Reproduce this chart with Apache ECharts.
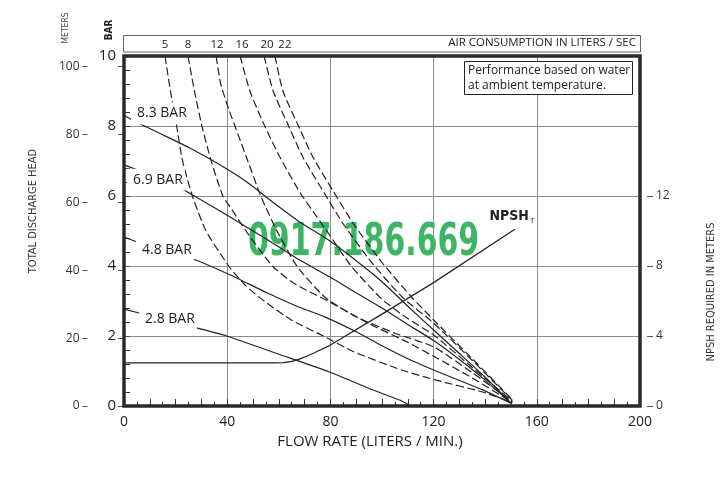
<!DOCTYPE html>
<html>
<head>
<meta charset="utf-8">
<script src="https://cdn.jsdelivr.net/npm/echarts@6/dist/echarts.min.js"></script>
<style>
html,body{margin:0;padding:0;background:#fff;}
#chart{width:724px;height:481px;}
</style>
</head>
<body>
<div id="chart"></div>
<script>
// ---------- DATA ----------
const flowTicks = [0, 40, 80, 120, 160, 200];          // LPM
const barTicks = [0, 2, 4, 6, 8, 10];                  // BAR
const meterTicks = [0, 20, 40, 60, 80, 100];           // m
const npshTicks = [0, 4, 8, 12];                       // m

const pressureLabels = ['8.3 BAR', '6.9 BAR', '4.8 BAR', '2.8 BAR'];
const p83 = [[0,8.3],[5.4,8.09],[15,7.75],[25.5,7.37],[36,6.94],[47.6,6.4],[57.6,5.83],[68.1,5.26],[79.7,4.72],[90,4.15],[100,3.55],[110,2.85],[120,2.17],[130,1.5],[140,0.82],[150,0.08]];
const p69 = [[0,6.89],[12,6.55],[22.4,6.2],[33.3,5.74],[47.6,5.11],[57.6,4.66],[68.1,4.17],[79.7,3.69],[90.1,3.23],[100,2.8],[110,2.33],[120,1.87],[130,1.33],[140,0.74],[150,0.08]];
const p48 = [[0,4.83],[12,4.5],[26.7,4.2],[41,3.75],[55,3.25],[67,2.85],[78,2.54],[90,2.12],[100,1.72],[110,1.35],[120,1.03],[130,0.73],[139,0.46],[150,0.08]];
const p28 = [[0,2.77],[14,2.5],[28.2,2.23],[39.8,2.0],[60,1.48],[79.7,0.97],[95,0.5],[106.8,0.17],[110.5,0.03]];

const airLabels = ['5', '8', '12', '16', '20', '22'];   // liters / sec
const air5  = [[15.9,10],[18,9],[20.4,8],[22.7,7],[26.5,6],[31.8,5],[40.6,4],[47,3.45],[54.3,3],[65,2.45],[77.3,2],[89,1.55],[108,1.02],[121,0.74],[139,0.4],[150.5,0.1]];
const air8  = [[24.8,10],[27.3,9],[30.2,8],[33.8,7],[38.3,6],[41.1,5.69],[47.3,5],[57.5,4],[66,3.5],[79,3],[95,2.35],[110,1.82],[120,1.42],[135,0.8],[150.5,0.1]];
const air12 = [[35.7,10],[37.5,9.2],[40.5,8.5],[44.5,7.7],[48,7],[53,6],[59.3,5],[67,4],[78,3.1],[90,2.55],[105,2.08],[120,1.69],[135,0.95],[150.5,0.12]];
const air16 = [[45,10],[48.8,9],[53.9,8.1],[60.5,7.1],[68.2,6.1],[74.8,5.4],[80,4.85],[88,4],[100,3.05],[110,2.5],[120,2.03],[135,1.1],[150.5,0.14]];
const air20 = [[54.3,10],[57.8,9],[63.2,8.1],[69.4,7.1],[77.5,6.1],[85,5.2],[96,4.1],[108,3.1],[120,2.37],[135,1.3],[150.5,0.16]];
const air22 = [[58.5,10],[61.6,9],[67,8.1],[73.3,7.1],[81,6.15],[89,5.2],[100,4.1],[111,3.15],[120,2.46],[135,1.35],[150.5,0.18]];

const npshLabel = 'NPSH';
const npshr = [[0,2.46],[58,2.46],[62,2.48],[65,2.55],[68,2.68],[71,2.86],[74,3.06],[80,3.48],[100,5.25],[120,7.05],[151.5,10.1]];

// ---------- STYLE ----------
const INK = '#222';
const NARROW = "'DejaVu Sans Condensed',sans-serif";
const HUMAN = "'Open Sans','Noto Sans',sans-serif";

const pressureSets = [p83, p69, p48, p28];
const pressureLabelPos = [
  {distance: 7, offset: [0, -2]},
  {distance: 3, offset: [0, 15]},
  {distance: 12, offset: [0, 13]},
  {distance: 15, offset: [0, 10]}
];
const airSets = [air5, air8, air12, air16, air20, air22];
const airLabelOffset = [[0,0],[0,0],[1,0],[2,0],[3,0],[10,0]];

const series = [];
pressureSets.forEach((d, i) => {
  series.push({
    type: 'line', xAxisIndex: 0, yAxisIndex: 0,
    smooth: 0.2,
    symbol: 'circle', symbolSize: 0, showSymbol: true, clip: false,
    lineStyle: {color: INK, width: 1.2},
    itemStyle: {color: INK},
    data: d.map((p, j) => j === 0 ? {
      value: p,
      label: {
        show: true, position: 'right', formatter: pressureLabels[i],
        distance: pressureLabelPos[i].distance, offset: pressureLabelPos[i].offset,
        fontFamily: HUMAN, fontSize: 14, color: INK,
        backgroundColor: '#fff', padding: [4, 2, 4, 6]
      }
    } : p),
    z: 3
  });
});
airSets.forEach((d, i) => {
  series.push({
    type: 'line', xAxisIndex: 0, yAxisIndex: 0,
    smooth: 0.2,
    symbol: 'circle', symbolSize: 0, showSymbol: true, clip: false,
    lineStyle: {color: INK, width: 1.2, type: [8, 3.5]},
    itemStyle: {color: INK},
    data: d.map((p, j) => j === 0 ? {
      value: p,
      label: {
        show: true, position: 'top', distance: 5, offset: airLabelOffset[i], formatter: airLabels[i],
        fontFamily: HUMAN, fontSize: 11.5, color: INK
      }
    } : p),
    z: 3
  });
});
series.push({
  type: 'line', xAxisIndex: 2, yAxisIndex: 3,
  smooth: false,
  symbol: 'circle', symbolSize: 0, showSymbol: true, clip: false,
  lineStyle: {color: INK, width: 1.2},
  itemStyle: {color: INK},
  data: npshr.map((p, j) => j === npshr.length - 1 ? {
    value: p,
    label: {
      show: true, position: 'top', distance: 4, offset: [-3, 0],
      formatter: '{a|' + npshLabel + '}{b|r}',
      rich: {
        a: {fontFamily: NARROW, fontWeight: 'bold', fontSize: 14, color: INK},
        b: {fontFamily: NARROW, fontSize: 9, color: INK, padding: [8, 0, 0, 2]}
      }
    }
  } : p),
  z: 3
});

const gridL = 124, gridR = 84, gridB = 75;
const option = {
  animation: false,
  backgroundColor: '#fff',
  grid: [
    {left: gridL, right: gridR, top: 56, bottom: gridB, show: true, borderColor: '#2a2a2a', borderWidth: 3.5, backgroundColor: 'transparent', z: 4},
    {left: gridL, right: gridR, top: 66.5, bottom: gridB, show: false},
    {left: gridL, right: gridR, top: 196, bottom: gridB, show: false}
  ],
  xAxis: [
    {gridIndex: 0, type: 'value', min: flowTicks[0], max: flowTicks[flowTicks.length - 1], interval: flowTicks[1] - flowTicks[0],
     axisLine: {show: false}, axisTick: {show: false},
     axisLabel: {fontFamily: HUMAN, fontSize: 14, color: INK, margin: 9},
     splitLine: {show: true, lineStyle: {color: '#8c8c8c', width: 1}}},
    {gridIndex: 0, type: 'value', min: 0, max: 200, interval: 10, position: 'bottom',
     axisLine: {show: false}, axisLabel: {show: false}, splitLine: {show: false},
     axisTick: {show: true, inside: true, length: 7, lineStyle: {color: '#333', width: 1}},
     minorTick: {show: true, splitNumber: 2, length: 4, lineStyle: {color: '#333', width: 1}}},
    {gridIndex: 2, type: 'value', min: 0, max: 200, show: false},
    {gridIndex: 1, type: 'value', min: 0, max: 200, show: false}
  ],
  yAxis: [
    {gridIndex: 0, type: 'value', min: barTicks[0], max: barTicks[barTicks.length - 1], interval: barTicks[1] - barTicks[0],
     axisLine: {show: false},
     axisTick: {show: true, inside: true, length: 6, lineStyle: {color: '#333'}},
     minorTick: {show: true, splitNumber: 5, length: 6, lineStyle: {color: '#333'}},
     axisLabel: {fontFamily: HUMAN, fontSize: 15, color: INK, margin: 8},
     splitLine: {show: true, lineStyle: {color: '#8c8c8c', width: 1}}},
    {gridIndex: 1, type: 'value', min: meterTicks[0], max: meterTicks[meterTicks.length - 1], interval: meterTicks[1] - meterTicks[0],
     position: 'left', offset: 41.5,
     axisLine: {show: true, lineStyle: {color: '#555', width: 1}},
     axisTick: {show: true, length: 6, lineStyle: {color: '#555'}},
     axisLabel: {fontFamily: HUMAN, fontSize: 12, color: '#333', margin: 3},
     splitLine: {show: false}},
    {gridIndex: 1, type: 'value', min: 0, max: 100, interval: 20, position: 'left', offset: 41.5,
     axisLine: {show: false}, axisLabel: {show: false}, splitLine: {show: false},
     axisTick: {show: true, inside: true, length: 5, lineStyle: {color: '#555'}}},
    {gridIndex: 2, type: 'value', min: npshTicks[0], max: npshTicks[npshTicks.length - 1], interval: npshTicks[1] - npshTicks[0],
     position: 'right', offset: 13,
     axisLine: {show: true, lineStyle: {color: '#555', width: 1}},
     axisTick: {show: true, length: 6, lineStyle: {color: '#555'}},
     axisLabel: {fontFamily: HUMAN, fontSize: 12, color: '#333', margin: 3},
     splitLine: {show: false}},
    {gridIndex: 2, type: 'value', min: 0, max: 12, interval: 4, position: 'right', offset: 13,
     axisLine: {show: false}, axisLabel: {show: false}, splitLine: {show: false},
     axisTick: {show: true, inside: true, length: 6, lineStyle: {color: '#555'}}}
  ],
  graphic: [
    // watermark
    {type: 'text', x: 248, y: 221, scaleX: 0.74, z: 1,
     style: {text: '0917.186.669', fill: '#3db565', font: 'bold 45px ' + NARROW}},
    // air consumption header box
    {type: 'rect', shape: {x: 123.5, y: 35.5, width: 517, height: 16.5}, z: 0,
     style: {fill: 'none', stroke: '#666', lineWidth: 1}},
    {type: 'text', right: 88, top: 37, z: 5,
     style: {text: 'AIR CONSUMPTION IN LITERS / SEC', fill: INK, font: '11.5px ' + HUMAN}},
    // note box
    {type: 'rect', shape: {x: 464.5, y: 61.5, width: 168, height: 33}, z: 5,
     style: {fill: '#fff', stroke: INK, lineWidth: 1}},
    {type: 'text', left: 468, top: 63, z: 6,
     style: {text: 'Performance based on water\nat ambient temperature.', fill: INK, font: '12px ' + HUMAN, lineHeight: 15}},
    // axis titles
    {type: 'text', x: 33, y: 211, rotation: Math.PI / 2, z: 5,
     style: {text: 'TOTAL DISCHARGE HEAD', fill: '#333', font: '11px ' + NARROW, align: 'center', verticalAlign: 'middle'}},
    {type: 'text', x: 66, y: 28, rotation: Math.PI / 2, z: 5,
     style: {text: 'METERS', fill: '#444', font: '8.5px ' + NARROW, align: 'center', verticalAlign: 'middle'}},
    {type: 'text', x: 109, y: 30, rotation: Math.PI / 2, z: 5,
     style: {text: 'BAR', fill: INK, font: 'bold 10px ' + NARROW, align: 'center', verticalAlign: 'middle'}},
    {type: 'text', x: 711, y: 292, rotation: Math.PI / 2, z: 5,
     style: {text: 'NPSH REQUIRED IN METERS', fill: '#333', font: '11px ' + NARROW, align: 'center', verticalAlign: 'middle'}},
    {type: 'text', x: 370, y: 442, z: 5,
     style: {text: 'FLOW RATE (LITERS / MIN.)', fill: INK, font: '15px ' + HUMAN, align: 'center', verticalAlign: 'middle'}}
  ],
  series: series
};
const chart = echarts.init(document.getElementById('chart'), null, {renderer: 'canvas'});
chart.setOption(option);
</script>
</body>
</html>
